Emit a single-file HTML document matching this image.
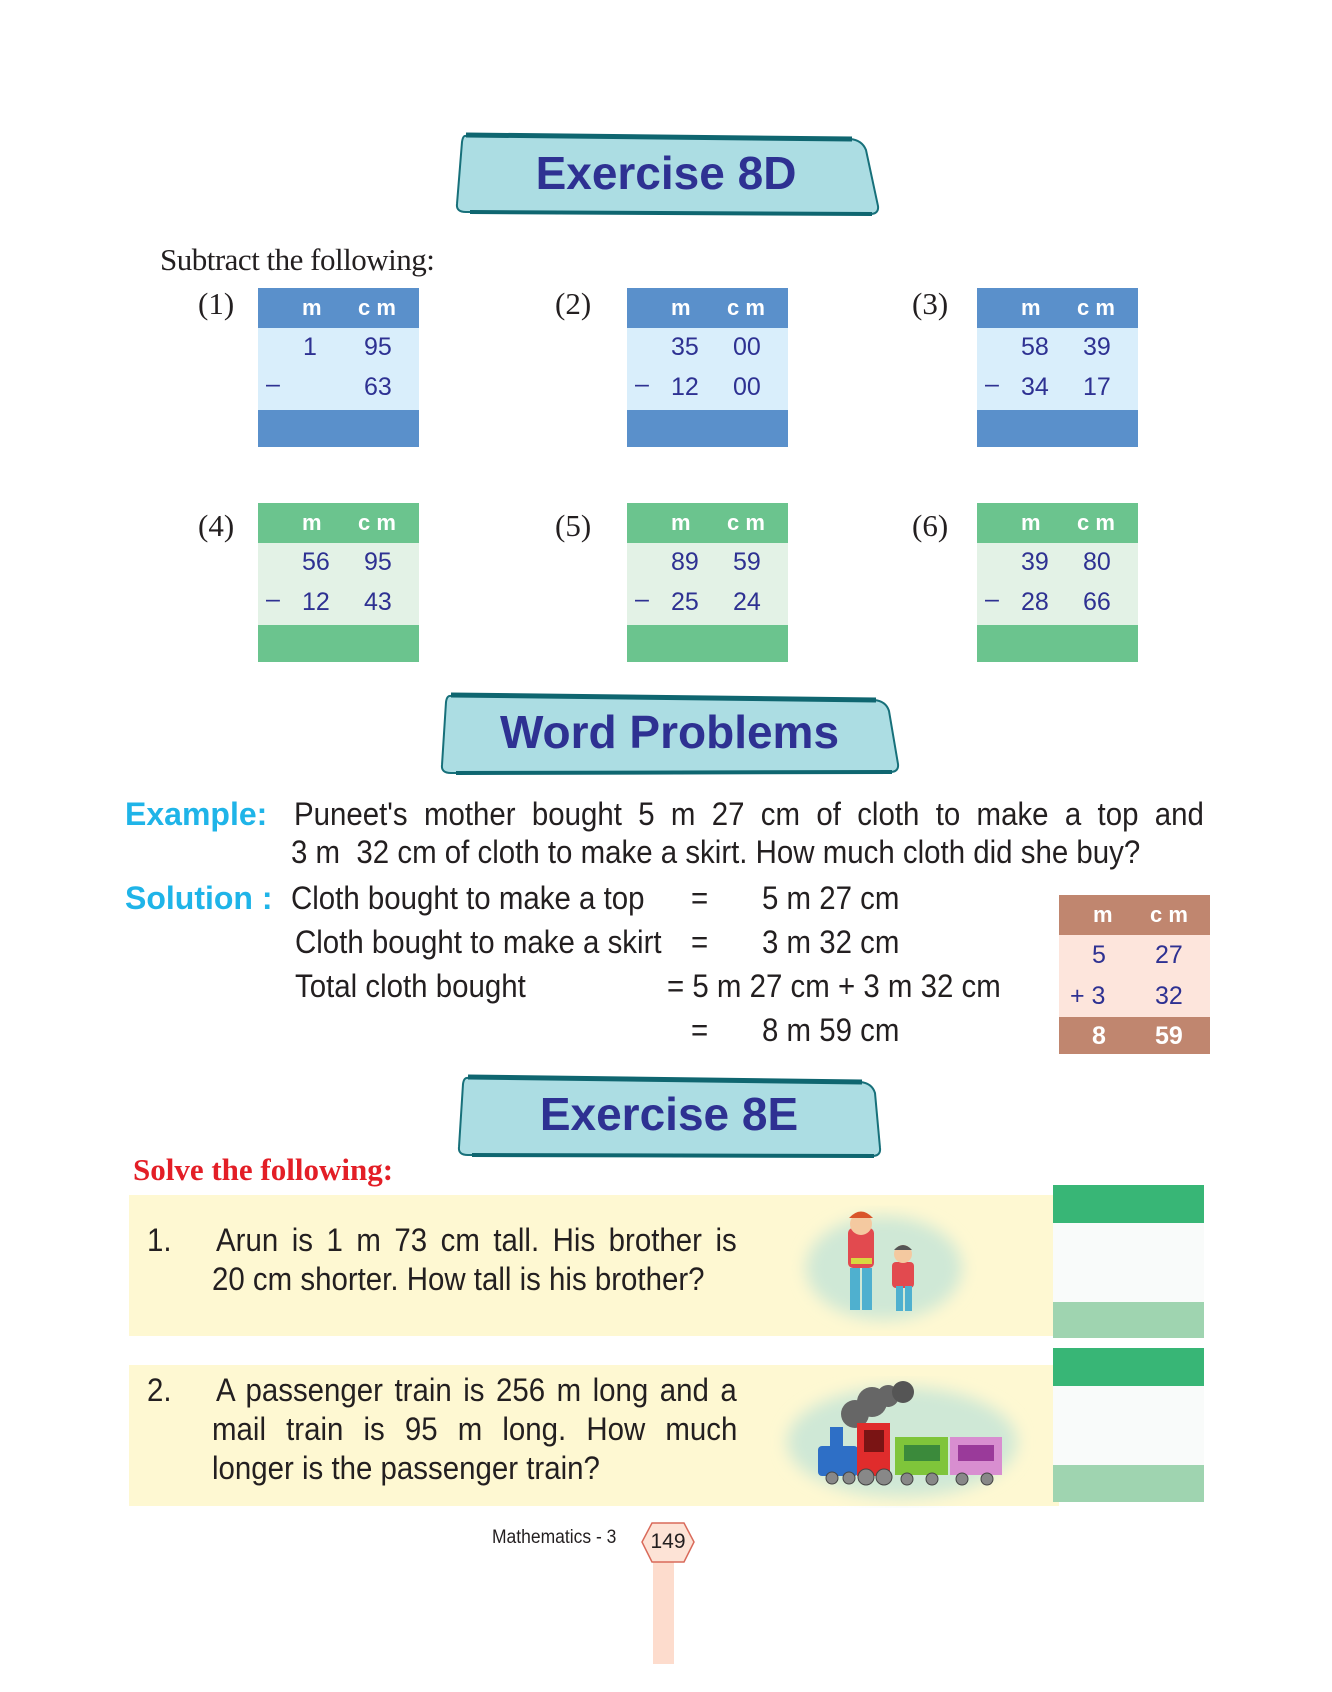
<!DOCTYPE html>
<html><head><meta charset="utf-8">
<style>
*{margin:0;padding:0;box-sizing:border-box}
body{width:1332px;height:1692px;background:#fff;position:relative;overflow:hidden;font-family:"Liberation Sans",sans-serif}
.a{position:absolute}
.ser{font-family:"Liberation Serif",serif;color:#231f20}
.nar{font-family:"Liberation Sans",sans-serif;color:#231f20;transform:scaleX(0.92);transform-origin:0 0;white-space:nowrap}
.j{white-space:normal;text-align:justify;text-align-last:justify}
.tb{position:absolute;width:161px}
.tb .h{height:40px;color:#fff;font-weight:bold;font-size:22px;position:relative}
.tb .b{height:82px;position:relative;color:#2e3192;font-size:25px}
.tb .f{height:37px}
.tb span{position:absolute;line-height:1}
.blue .h,.blue .f{background:#5a90cb}.blue .b{background:#d9eefb}
.green .h,.green .f{background:#6bc48e}.green .b{background:#e3f2e6}
.lbl{position:absolute;font-family:"Liberation Serif",serif;font-size:31px;color:#231f20}
</style></head><body>

<svg class="a" style="left:0;top:0" width="1332" height="1692">
  <path d="M466,136 L850,139 Q862,140 866,150 L878,206 Q879,214 870,214 L466,212 Q456,212 457,204 L462,142 Q463,135 466,136Z" fill="#acdde3" stroke="#17707a" stroke-width="2"/>
  <path d="M466,135 L852,139" stroke="#0f6670" stroke-width="5"/>
  <path d="M470,212 L872,214" stroke="#0f6670" stroke-width="4"/>
 <path d="M451,696 L874,700 Q886,701 889,711 L898,764 Q899,772 890,772 L451,773 Q441,773 442,765 L446,702 Q447,695 451,696Z" fill="#acdde3" stroke="#17707a" stroke-width="2"/>
 <path d="M451,695 L876,700" stroke="#0f6670" stroke-width="5"/>
 <path d="M456,773 L892,772" stroke="#0f6670" stroke-width="4"/>
 <path d="M468,1078 L860,1082 Q872,1083 875,1093 L880,1148 Q881,1156 872,1156 L468,1155 Q458,1155 459,1147 L463,1084 Q464,1077 468,1078Z" fill="#acdde3" stroke="#17707a" stroke-width="2"/>
 <path d="M468,1077 L862,1082" stroke="#0f6670" stroke-width="5"/>
 <path d="M472,1155 L874,1156" stroke="#0f6670" stroke-width="4"/>
</svg>
<div class="a" style="left:456px;top:146px;width:420px;text-align:center;font-size:46px;font-weight:bold;color:#2e3192">Exercise 8D</div>
<div class="a" style="left:441px;top:705px;width:457px;text-align:center;font-size:46px;font-weight:bold;color:#2e3192">Word Problems</div>
<div class="a" style="left:458px;top:1087px;width:422px;text-align:center;font-size:46px;font-weight:bold;color:#2e3192">Exercise 8E</div>

<div class="a ser" style="left:160px;top:242px;font-size:31px;letter-spacing:-0.5px">Subtract the following:</div>

<div class="lbl" style="left:198px;top:286px">(1)</div>
<div class="lbl" style="left:555px;top:286px">(2)</div>
<div class="lbl" style="left:912px;top:286px">(3)</div>
<div class="tb blue" style="left:258px;top:288px"><div class="h"><span style="left:44px;top:9px">m</span><span style="left:100px;top:9px">c m</span></div><div class="b"><span style="left:45px;top:7px">1</span><span style="left:106px;top:7px">95</span><span style="left:8px;top:44px">–</span><span style="left:106px;top:47px">63</span></div><div class="f"></div></div>
<div class="tb blue" style="left:627px;top:288px"><div class="h"><span style="left:44px;top:9px">m</span><span style="left:100px;top:9px">c m</span></div><div class="b"><span style="left:44px;top:7px">35</span><span style="left:106px;top:7px">00</span><span style="left:8px;top:44px">–</span><span style="left:44px;top:47px">12</span><span style="left:106px;top:47px">00</span></div><div class="f"></div></div>
<div class="tb blue" style="left:977px;top:288px"><div class="h"><span style="left:44px;top:9px">m</span><span style="left:100px;top:9px">c m</span></div><div class="b"><span style="left:44px;top:7px">58</span><span style="left:106px;top:7px">39</span><span style="left:8px;top:44px">–</span><span style="left:44px;top:47px">34</span><span style="left:106px;top:47px">17</span></div><div class="f"></div></div>

<div class="lbl" style="left:198px;top:508px">(4)</div>
<div class="lbl" style="left:555px;top:508px">(5)</div>
<div class="lbl" style="left:912px;top:508px">(6)</div>
<div class="tb green" style="left:258px;top:503px"><div class="h"><span style="left:44px;top:9px">m</span><span style="left:100px;top:9px">c m</span></div><div class="b"><span style="left:44px;top:7px">56</span><span style="left:106px;top:7px">95</span><span style="left:8px;top:44px">–</span><span style="left:44px;top:47px">12</span><span style="left:106px;top:47px">43</span></div><div class="f"></div></div>
<div class="tb green" style="left:627px;top:503px"><div class="h"><span style="left:44px;top:9px">m</span><span style="left:100px;top:9px">c m</span></div><div class="b"><span style="left:44px;top:7px">89</span><span style="left:106px;top:7px">59</span><span style="left:8px;top:44px">–</span><span style="left:44px;top:47px">25</span><span style="left:106px;top:47px">24</span></div><div class="f"></div></div>
<div class="tb green" style="left:977px;top:503px"><div class="h"><span style="left:44px;top:9px">m</span><span style="left:100px;top:9px">c m</span></div><div class="b"><span style="left:44px;top:7px">39</span><span style="left:106px;top:7px">80</span><span style="left:8px;top:44px">–</span><span style="left:44px;top:47px">28</span><span style="left:106px;top:47px">66</span></div><div class="f"></div></div>

<div class="a" style="left:125px;top:796px;font-size:32px;font-weight:bold;color:#1fb4e8">Example:</div>
<div class="a nar j" style="left:294px;top:796px;width:989px;font-size:32px">Puneet's mother bought 5 m 27 cm of cloth to make a top and</div>
<div class="a nar" style="left:291px;top:834px;font-size:32px">3 m&nbsp; 32 cm of cloth to make a skirt. How much cloth did she buy?</div>
<div class="a" style="left:125px;top:880px;font-size:32px;font-weight:bold;color:#1fb4e8">Solution :</div>
<div class="a nar" style="left:291px;top:880px;font-size:32px">Cloth bought to make a top</div>
<div class="a nar" style="left:691px;top:880px;font-size:32px">=</div>
<div class="a nar" style="left:762px;top:880px;font-size:32px">5 m 27 cm</div>
<div class="a nar" style="left:295px;top:924px;font-size:32px">Cloth bought to make a skirt</div>
<div class="a nar" style="left:691px;top:924px;font-size:32px">=</div>
<div class="a nar" style="left:762px;top:924px;font-size:32px">3 m 32 cm</div>
<div class="a nar" style="left:295px;top:968px;font-size:32px">Total cloth bought</div>
<div class="a nar" style="left:667px;top:968px;font-size:32px">= 5 m 27 cm + 3 m 32 cm</div>
<div class="a nar" style="left:691px;top:1012px;font-size:32px">=</div>
<div class="a nar" style="left:762px;top:1012px;font-size:32px">8 m 59 cm</div>

<div class="a" style="left:1059px;top:895px;width:151px;height:40px;background:#c0866f"></div>
<div class="a" style="left:1059px;top:935px;width:151px;height:82px;background:#fde5dc"></div>
<div class="a" style="left:1059px;top:1017px;width:151px;height:37px;background:#c0866f"></div>
<div class="a" style="left:1093px;top:902px;color:#fff;font-weight:bold;font-size:22px">m</div>
<div class="a" style="left:1150px;top:902px;color:#fff;font-weight:bold;font-size:22px">c m</div>
<div class="a" style="left:1092px;top:941px;color:#2e3192;font-size:25px">5</div>
<div class="a" style="left:1155px;top:941px;color:#2e3192;font-size:25px">27</div>
<div class="a" style="left:1070px;top:982px;color:#2e3192;font-size:25px">+ 3</div>
<div class="a" style="left:1155px;top:982px;color:#2e3192;font-size:25px">32</div>
<div class="a" style="left:1092px;top:1022px;color:#fff;font-weight:bold;font-size:25px">8</div>
<div class="a" style="left:1155px;top:1022px;color:#fff;font-weight:bold;font-size:25px">59</div>

<div class="a" style="left:133px;top:1152px;font-size:31px;font-weight:bold;color:#e31e26;font-family:'Liberation Serif',serif">Solve the following:</div>
<div class="a" style="left:129px;top:1195px;width:930px;height:141px;background:#fef8d2"></div>
<div class="a" style="left:129px;top:1365px;width:930px;height:141px;background:#fef8d2"></div>
<div class="a" style="left:1053px;top:1185px;width:151px;height:38px;background:#38b676"></div>
<div class="a" style="left:1053px;top:1223px;width:151px;height:79px;background:#f9fbfa"></div>
<div class="a" style="left:1053px;top:1302px;width:151px;height:36px;background:#9fd4b0"></div>
<div class="a" style="left:1053px;top:1348px;width:151px;height:38px;background:#38b676"></div>
<div class="a" style="left:1053px;top:1386px;width:151px;height:79px;background:#f9fbfa"></div>
<div class="a" style="left:1053px;top:1465px;width:151px;height:37px;background:#9fd4b0"></div>

<div class="a nar" style="left:147px;top:1222px;font-size:32px">1.</div>
<div class="a nar j" style="left:216px;top:1222px;width:566px;font-size:32px">Arun is 1 m 73 cm tall. His brother is</div>
<div class="a nar" style="left:212px;top:1261px;font-size:32px">20 cm shorter. How tall is his brother?</div>
<div class="a nar" style="left:147px;top:1372px;font-size:32px">2.</div>
<div class="a nar j" style="left:216px;top:1372px;width:566px;font-size:32px">A passenger train is 256 m long and a</div>
<div class="a nar j" style="left:212px;top:1411px;width:571px;font-size:32px">mail train is 95 m long. How much</div>
<div class="a nar" style="left:212px;top:1450px;font-size:32px">longer is the passenger train?</div>

<svg class="a" style="left:0;top:0" width="1332" height="1692">
 <defs><filter id="bl"><feGaussianBlur stdDeviation="8"/></filter></defs>
 <ellipse cx="884" cy="1268" rx="78" ry="52" fill="#cfe8d6" filter="url(#bl)"/>
 <rect x="848" y="1228" width="26" height="40" rx="5" fill="#e24a4f"/>
 <circle cx="861" cy="1224" r="11" fill="#f4c9a0"/>
 <path d="M849,1218 Q861,1205 873,1218Z" fill="#d9552a"/>
 <rect x="851" y="1258" width="21" height="6" fill="#d8d840"/>
 <rect x="850" y="1268" width="10" height="42" fill="#4fb0cf"/><rect x="862" y="1268" width="10" height="42" fill="#4fb0cf"/>
 <rect x="892" y="1262" width="22" height="26" rx="4" fill="#e24a4f"/>
 <circle cx="903" cy="1254" r="9" fill="#f4c9a0"/>
 <path d="M894,1250 Q903,1240 912,1250Z" fill="#555"/>
 <rect x="896" y="1286" width="7" height="25" fill="#4fb0cf"/><rect x="905" y="1286" width="7" height="25" fill="#4fb0cf"/>
 <ellipse cx="902" cy="1442" rx="115" ry="55" fill="#cfe8d6" filter="url(#bl)"/>
 <circle cx="855" cy="1414" r="14" fill="#666"/><circle cx="872" cy="1402" r="15" fill="#666"/><circle cx="888" cy="1396" r="11" fill="#666"/><circle cx="903" cy="1392" r="11" fill="#555"/>
 <rect x="830" y="1427" width="13" height="22" fill="#2e6fc6"/>
 <rect x="818" y="1446" width="40" height="30" rx="4" fill="#2e6fc6"/>
 <rect x="857" y="1423" width="33" height="53" fill="#e02c2c"/><rect x="864" y="1430" width="20" height="22" fill="#7a1414"/>
 <rect x="895" y="1437" width="53" height="38" fill="#7fc53a"/><rect x="904" y="1445" width="36" height="16" fill="#3b8a3b"/>
 <rect x="950" y="1437" width="52" height="38" fill="#d88ed0"/><rect x="958" y="1445" width="36" height="16" fill="#9a3a9a"/>
 <g fill="#888" stroke="#444"><circle cx="832" cy="1478" r="6"/><circle cx="849" cy="1478" r="6"/><circle cx="866" cy="1477" r="8"/><circle cx="884" cy="1477" r="8"/><circle cx="907" cy="1479" r="6"/><circle cx="932" cy="1479" r="6"/><circle cx="962" cy="1479" r="6"/><circle cx="987" cy="1479" r="6"/></g>
</svg>

<div class="a nar" style="left:492px;top:1527px;font-size:19px">Mathematics - 3</div>
<div class="a" style="left:653px;top:1558px;width:21px;height:106px;background:#fddccd"></div>
<svg class="a" style="left:640px;top:1522px" width="56" height="42"><polygon points="12,1 44,1 54,20 44,40 12,40 2,20" fill="#fde3d6" stroke="#d96a5a" stroke-width="1.5"/></svg>
<div class="a" style="left:640px;top:1530px;width:56px;text-align:center;font-size:21px;color:#231f20">149</div>
</body></html>
